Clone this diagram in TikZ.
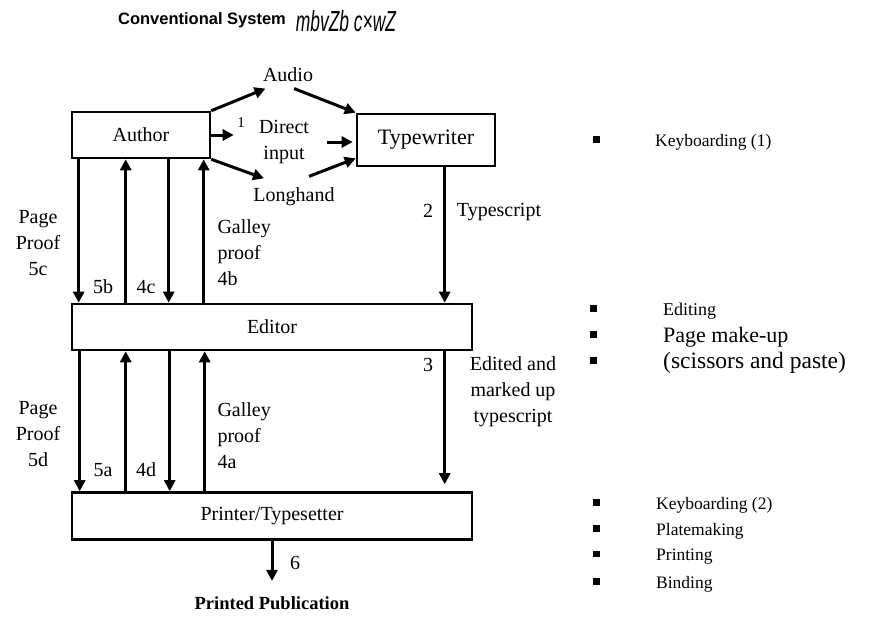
\documentclass[tikz,border=0pt]{standalone}
\usepackage{fontspec}
\setmainfont{Liberation Serif}
\newfontfamily\headfont{Liberation Sans}
\usetikzlibrary{arrows.meta}
\tikzstyle{mybox} = [draw=black, line width=2.6pt, rectangle, fill=white]
\tikzstyle{flow} = [line width=3pt, -{Triangle[length=11pt,width=11pt]}]
\tikzstyle{bulletitem} = [anchor=west, inner sep=0pt]
\newcommand{\sq}{\rule[0.2em]{6.5pt}{6.5pt}}

\begin{document}
\begin{tikzpicture}[x=1pt, y=-1pt, font=\fontsize{20}{26}\selectfont]
    \useasboundingbox (0,0) rectangle (874,618);
    % headings
    \node[font=\headfont\fontsize{16.5}{18}\selectfont\bfseries] (title) at (202,20) {Conventional System};
    \node[font=\headfont\fontsize{29}{30}\selectfont\itshape] (subtitle) at (346,21) {\scalebox{0.6}[1]{mbvZb c×wZ}};
    % boxes
    \node[mybox, minimum width=138pt, minimum height=46pt] (author) at (141,135) {Author};
    \node[mybox, minimum width=138pt, minimum height=52pt, font=\fontsize{22}{26}\selectfont] (typewriter) at (426,140) {Typewriter};
    \node[mybox, minimum width=400pt, minimum height=46pt] (editor) at (272,327) {Editor};
    \node[mybox, minimum width=400pt, minimum height=47pt] (printer) at (272,516) {Printer/Typesetter};
    % input routes
    \node (audio) at (288,75) {Audio};
    \node[align=center] (direct) at (284,142) {Direct\\input};
    \node[font=\fontsize{15}{15}\selectfont] (one) at (241,123) {1};
    \node (longhand) at (294,197) {Longhand};
    \draw[flow] (author.north east) -- ([xshift=6pt,yshift=-3pt]audio.south west);
    \draw[flow] ([yshift=-3pt]audio.-60) -- (typewriter.north west);
    \draw[flow] (author.east) -- (author.east -| one.west);
    \draw[flow, shorten <=14pt, shorten >=3pt] (direct.east) -- (typewriter.west |- direct.east);
    \draw[flow] (author.south east) -- ([xshift=14pt,yshift=6pt]longhand.north west);
    \draw[flow] ([yshift=8pt]longhand.40) -- ([yshift=9pt]typewriter.south west);
    % author <-> editor
    \draw[flow] ([xshift=8pt]author.south west) -- ([xshift=8pt]editor.north west);
    \draw[flow] ([xshift=55pt]editor.north west) -- ([xshift=55pt]author.south west);
    \draw[flow] ([xshift=98pt]author.south west) -- ([xshift=98pt]editor.north west);
    \draw[flow] ([xshift=133pt]editor.north west) -- ([xshift=133pt]author.south west);
    \draw[flow] ([xshift=89pt]typewriter.south west) -- ([xshift=89pt]typewriter.south west |- editor.north);
    \node[align=center] (pp5c) at (38,243) {Page\\Proof\\5c};
    \node (l5b) at (103,287) {5b};
    \node (l4c) at (146,287) {4c};
    \node[align=left, anchor=west] (gp4b) at (214,253) {Galley\\proof\\4b};
    \node (l2) at (428,211) {2};
    \node (typescript) at (499,212) {Typescript};
    % editor <-> printer
    \draw[flow] ([xshift=9pt]editor.south west) -- ([xshift=9pt]printer.north west);
    \draw[flow] ([xshift=55pt]printer.north west) -- ([xshift=55pt]editor.south west);
    \draw[flow] ([xshift=99pt]editor.south west) -- ([xshift=99pt]printer.north west);
    \draw[flow] ([xshift=134pt]printer.north west) -- ([xshift=134pt]editor.south west);
    \draw[flow, shorten >=7pt] ([xshift=374pt]editor.south west) -- ([xshift=374pt]editor.south west |- printer.north);
    \node[align=center] (pp5d) at (38,434) {Page\\Proof\\5d};
    \node (l5a) at (103,470) {5a};
    \node (l4d) at (146,470) {4d};
    \node[align=left, anchor=west] (gp4a) at (214,436) {Galley\\proof\\4a};
    \node (l3) at (428,365) {3};
    \node[align=center] (edited) at (513,392) {Edited and\\marked up\\typescript};
    % output
    \node[font=\fontsize{18.5}{20}\selectfont\bfseries] (pub) at (272,603) {Printed Publication};
    \draw[flow, shorten >=12pt] (printer.south) -- (pub.north);
    \node (l6) at (295,563) {6};
    % activities
    \node[bulletitem, font=\fontsize{17.5}{20}\selectfont] (kb1) at (593,142) {\makebox[62pt][l]{\sq}Keyboarding (1)};
    \node[bulletitem, font=\fontsize{18}{20}\selectfont] (editing) at (590,311) {\makebox[73pt][l]{\sq}Editing};
    \node[bulletitem, font=\fontsize{22}{24}\selectfont] (makeup) at (590,337) {\makebox[73pt][l]{\sq}Page make-up};
    \node[bulletitem, font=\fontsize{23.5}{24}\selectfont] (scissors) at (590,363) {\makebox[73pt][l]{\sq}(scissors and paste)};
    \node[bulletitem, font=\fontsize{17.5}{20}\selectfont] (kb2) at (593,505) {\makebox[63pt][l]{\sq}Keyboarding (2)};
    \node[bulletitem, font=\fontsize{17.5}{20}\selectfont] (plate) at (593,531) {\makebox[63pt][l]{\sq}Platemaking};
    \node[bulletitem, font=\fontsize{17.5}{20}\selectfont] (printing) at (593,557) {\makebox[63pt][l]{\sq}Printing};
    \node[bulletitem, font=\fontsize{17.5}{20}\selectfont] (binding) at (593,584) {\makebox[63pt][l]{\sq}Binding};
\end{tikzpicture}
\end{document}
